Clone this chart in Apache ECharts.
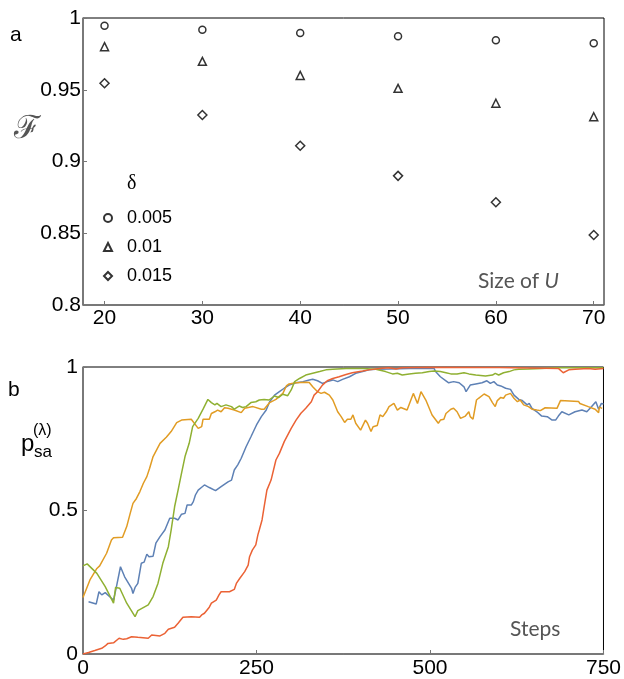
<!DOCTYPE html>
<html>
<head>
<meta charset="utf-8">
<script src="https://cdn.jsdelivr.net/npm/echarts@6/dist/echarts.min.js"></script>
<style>html,body{margin:0;padding:0;background:#fff;}#c{width:624px;height:679px;}</style>
</head>
<body>
<div id="c"></div>
<script>
// ---- Panel a data ----
const sizes = [20, 30, 40, 50, 60, 70];
const deltaNames = ['0.005', '0.01', '0.015'];
const fid005 = [0.9946, 0.9918, 0.9895, 0.9872, 0.9845, 0.9824];
const fid010 = [0.9800, 0.9698, 0.9600, 0.9510, 0.9406, 0.9312];
const fid015 = [0.9545, 0.9324, 0.9110, 0.8900, 0.8716, 0.8488];
const yTicksA = [0.8, 0.85, 0.9, 0.95, 1];

// ---- Panel b data ----
const blueSteps = [8,19,23,27,32,41,44,48,54,60,70,72,75,79,84,88,92,95,101,105,111,118,125,132,137,142,147,150,156,159,162,166,171,175,182,191,199,209,214,218,223,228,235,242,250,257,264,269,276,283,290,297,307,317,326,331,338,345,352,360,367,374,384,393,403,412,422,441,470,506,508,515,523,527,534,542,549,552,558,566,575,582,587,592,597,602,609,616,621,628,633,640,643,647,654,661,669,676,681,685,690,700,709,719,726,733,739,743,747,750];
const blueVals = [0.182,0.174,0.217,0.206,0.214,0.194,0.188,0.232,0.304,0.269,0.229,0.211,0.232,0.246,0.316,0.320,0.348,0.339,0.341,0.386,0.409,0.432,0.473,0.473,0.467,0.487,0.490,0.519,0.519,0.531,0.554,0.571,0.581,0.589,0.580,0.569,0.583,0.600,0.606,0.641,0.659,0.682,0.722,0.757,0.798,0.827,0.850,0.879,0.902,0.914,0.926,0.937,0.945,0.949,0.955,0.957,0.952,0.943,0.949,0.955,0.949,0.957,0.966,0.978,0.984,0.990,0.992,0.993,0.995,0.995,0.984,0.966,0.952,0.945,0.949,0.945,0.931,0.914,0.937,0.941,0.945,0.952,0.943,0.949,0.937,0.934,0.926,0.922,0.902,0.887,0.883,0.868,0.873,0.856,0.844,0.829,0.827,0.815,0.815,0.829,0.844,0.833,0.844,0.850,0.844,0.862,0.879,0.853,0.873,0.871];

const orangeSteps = [0,10,20,24,34,41,44,57,63,68,72,77,82,87,92,96,101,111,120,127,135,142,156,166,171,173,182,185,190,194,199,204,209,218,228,233,245,257,261,269,278,288,293,297,307,321,326,331,338,343,348,350,355,360,367,372,377,381,386,389,393,400,407,410,415,418,424,428,432,437,441,448,453,458,467,476,482,487,494,503,512,515,520,523,530,534,539,544,551,556,558,562,567,570,578,585,590,594,597,602,606,609,616,621,626,630,635,642,647,654,659,666,683,688,714,716,728,738,743,744,748];
const orangeVals = [0.197,0.258,0.298,0.307,0.351,0.397,0.405,0.407,0.444,0.490,0.525,0.542,0.566,0.595,0.618,0.647,0.688,0.734,0.755,0.775,0.806,0.815,0.818,0.786,0.792,0.818,0.818,0.838,0.844,0.850,0.844,0.858,0.856,0.850,0.841,0.856,0.862,0.853,0.853,0.876,0.887,0.908,0.934,0.941,0.945,0.947,0.946,0.931,0.914,0.908,0.912,0.917,0.902,0.885,0.844,0.827,0.807,0.818,0.818,0.833,0.804,0.780,0.815,0.804,0.775,0.792,0.796,0.833,0.827,0.844,0.862,0.873,0.850,0.859,0.850,0.908,0.873,0.914,0.885,0.833,0.804,0.815,0.818,0.838,0.853,0.856,0.844,0.821,0.829,0.844,0.827,0.818,0.885,0.891,0.906,0.897,0.876,0.862,0.883,0.894,0.891,0.902,0.908,0.891,0.879,0.885,0.868,0.862,0.853,0.850,0.848,0.858,0.856,0.883,0.880,0.873,0.862,0.853,0.841,0.860,0.856];

const greenSteps = [0,6,20,32,44,47,53,63,75,79,94,101,108,115,123,127,132,137,142,147,153,158,166,173,180,185,190,193,199,206,214,218,225,230,235,242,249,254,261,268,276,282,288,295,300,305,312,321,331,341,350,360,379,403,422,436,446,453,460,470,479,489,499,506,515,523,530,539,549,556,566,580,590,594,599,606,614,621,628,642,661,681,750];
const greenVals = [0.307,0.314,0.281,0.235,0.177,0.232,0.229,0.177,0.130,0.151,0.171,0.200,0.246,0.316,0.374,0.432,0.513,0.571,0.630,0.688,0.734,0.792,0.821,0.853,0.887,0.876,0.868,0.873,0.862,0.868,0.862,0.853,0.864,0.859,0.862,0.876,0.879,0.885,0.887,0.885,0.899,0.894,0.905,0.900,0.920,0.949,0.960,0.972,0.978,0.984,0.990,0.992,0.995,0.995,0.992,0.984,0.976,0.978,0.972,0.976,0.978,0.980,0.984,0.986,0.984,0.980,0.976,0.976,0.980,0.976,0.972,0.969,0.972,0.978,0.972,0.980,0.984,0.990,0.992,0.993,0.995,0.997,0.997];

const redSteps = [0,8,17,27,32,36,44,52,58,63,70,79,94,99,111,118,123,132,137,144,156,168,171,175,182,185,192,196,199,211,218,221,226,233,238,240,244,249,252,254,258,261,265,271,278,283,290,300,307,314,321,329,333,338,345,352,360,369,379,388,403,412,427,441,451,460,499,600,685,692,700,709,728,738,750];
const redVals = [0,0.005,0.012,0.020,0.028,0.037,0.039,0.055,0.051,0.053,0.060,0.058,0.055,0.066,0.063,0.072,0.086,0.093,0.107,0.128,0.130,0.128,0.136,0.142,0.163,0.177,0.188,0.206,0.217,0.217,0.225,0.246,0.264,0.287,0.310,0.339,0.362,0.380,0.415,0.432,0.467,0.513,0.571,0.606,0.676,0.699,0.740,0.786,0.815,0.839,0.856,0.879,0.902,0.914,0.937,0.952,0.960,0.966,0.974,0.980,0.986,0.990,0.995,0.997,0.993,0.997,0.999,0.998,0.995,0.980,0.990,0.992,0.995,0.992,0.995];

const stepTicks = [0, 250, 500, 750];

function pairs(xs, ys) { return xs.map((x, i) => [x, ys[i]]); }

const chart = echarts.init(document.getElementById('c'), null, {renderer: 'canvas'});
const AX = '#777';
const FONT = '"Liberation Sans", Arial, sans-serif';
const markerStyle = {color: '#fff', borderColor: '#000', borderWidth: 1.5};

const option = {
  animation: false,
  backgroundColor: '#fff',
  grid: [
    {left: 83, top: 18, width: 521, height: 287, show: true, borderColor: '#000', borderWidth: 1, backgroundColor: 'transparent'},
    {left: 83, top: 367, width: 522, height: 287, show: true, borderColor: '#000', borderWidth: 1, backgroundColor: 'transparent'}
  ],
  xAxis: [
    {type: 'value', gridIndex: 0, min: 17.8, max: 71.05,
     axisLine: {show: true, lineStyle: {color: AX, width: 1.5}},
     axisTick: {show: true, inside: true, length: 4, customValues: sizes, lineStyle: {color: AX}},
     axisLabel: {customValues: sizes, fontSize: 21, color: '#000', fontFamily: FONT, margin: 3},
     splitLine: {show: false}},
    {type: 'value', gridIndex: 1, min: 0, max: 750, interval: 250,
     axisLine: {show: true, lineStyle: {color: AX, width: 1.5}},
     axisTick: {show: true, inside: true, length: 4, lineStyle: {color: AX}},
     axisLabel: {fontSize: 21, color: '#000', fontFamily: FONT, margin: 4},
     splitLine: {show: false}}
  ],
  yAxis: [
    {type: 'value', gridIndex: 0, min: 0.8, max: 1, interval: 0.05,
     axisLine: {show: true, lineStyle: {color: AX, width: 1.5}},
     axisTick: {show: true, inside: true, length: 4, lineStyle: {color: AX}},
     axisLabel: {fontSize: 21, color: '#000', fontFamily: FONT, margin: 2},
     splitLine: {show: false}},
    {type: 'value', gridIndex: 1, min: 0, max: 1, interval: 0.5,
     axisLine: {show: true, lineStyle: {color: AX, width: 1.5}},
     axisTick: {show: true, inside: true, length: 4, lineStyle: {color: AX}},
     axisLabel: {fontSize: 21, color: '#000', fontFamily: FONT, margin: 5},
     splitLine: {show: false}}
  ],
  legend: {
    data: deltaNames, orient: 'vertical', left: 103, top: 209, padding: 0,
    itemWidth: 8, itemHeight: 8, itemGap: 11,
    textStyle: {fontSize: 18, color: '#000', fontFamily: FONT, padding: [0, 0, 0, 10]}
  },
  series: [
    {name: deltaNames[0], type: 'scatter', xAxisIndex: 0, yAxisIndex: 0, symbol: 'circle', symbolSize: 7, itemStyle: markerStyle, data: pairs(sizes, fid005)},
    {name: deltaNames[1], type: 'scatter', xAxisIndex: 0, yAxisIndex: 0, symbol: 'triangle', symbolSize: 8, itemStyle: markerStyle, data: pairs(sizes, fid010)},
    {name: deltaNames[2], type: 'scatter', xAxisIndex: 0, yAxisIndex: 0, symbol: 'diamond', symbolSize: [9, 9], itemStyle: markerStyle, data: pairs(sizes, fid015)},
    {type: 'line', xAxisIndex: 1, yAxisIndex: 1, showSymbol: false, lineStyle: {color: '#5E81B5', width: 1.5}, data: pairs(blueSteps, blueVals)},
    {type: 'line', xAxisIndex: 1, yAxisIndex: 1, showSymbol: false, lineStyle: {color: '#E19C24', width: 1.5}, data: pairs(orangeSteps, orangeVals)},
    {type: 'line', xAxisIndex: 1, yAxisIndex: 1, showSymbol: false, lineStyle: {color: '#8FB032', width: 1.5}, data: pairs(greenSteps, greenVals)},
    {type: 'line', xAxisIndex: 1, yAxisIndex: 1, showSymbol: false, lineStyle: {color: '#EB6235', width: 1.5}, data: pairs(redSteps, redVals)}
  ],
  graphic: [
    {type: 'text', left: 10, top: 25, style: {text: 'a', fontSize: 21, fontFamily: FONT, fill: '#000'}},
    {type: 'text', left: 8, top: 380, style: {text: 'b', fontSize: 21, fontFamily: FONT, fill: '#000'}},
    {type: 'text', left: 14, top: 114, style: {text: 'ℱ', fontSize: 32, fontFamily: '"DejaVu Serif", serif', fill: '#555'}},
    {type: 'text', left: 127, top: 174, style: {text: 'δ', fontSize: 20, fontFamily: '"Liberation Serif", serif', fill: '#000'}},
    {type: 'text', left: 478, top: 271, style: {
      text: '{n|Size of }{i|U}', fontSize: 21, fill: '#555', fontFamily: 'Lato, sans-serif',
      rich: {n: {fontSize: 21, fontFamily: 'Lato, sans-serif', fill: '#555'}, i: {fontSize: 21, fontStyle: 'italic', fontFamily: 'Lato, sans-serif', fill: '#555'}}
    }},
    {type: 'text', left: 510, top: 619, style: {text: 'Steps', fontSize: 21, fontFamily: 'Lato, sans-serif', fill: '#555'}},
    {type: 'text', left: 21, top: 432, style: {text: 'p', fontSize: 24, fontFamily: FONT, fill: '#000'}},
    {type: 'text', left: 34, top: 444, style: {text: 'sa', fontSize: 17, fontFamily: FONT, fill: '#000'}},
    {type: 'text', left: 33, top: 423, style: {text: '(λ)', fontSize: 16, fontFamily: FONT, fill: '#000'}}
  ]
};
chart.setOption(option);
</script>
</body>
</html>
